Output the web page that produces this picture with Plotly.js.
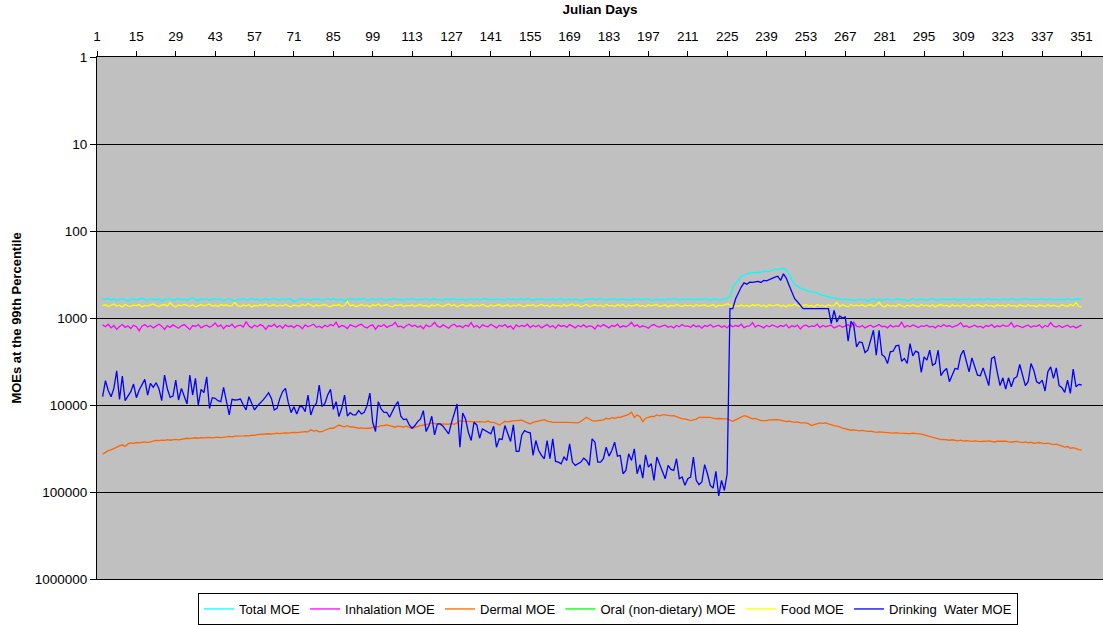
<!DOCTYPE html>
<html>
<head>
<meta charset="utf-8">
<script src="https://cdn.plot.ly/plotly-3.0.1.min.js"></script>
<style>html,body{margin:0;padding:0;background:#fff;}#chart{width:1103px;height:625px;}</style>
</head>
<body>
<div id="chart"></div>
<script>
// Day of the first plotted value (one value per Julian day after that)
const firstDay = 3;

const xTickDays = [1,15,29,43,57,71,85,99,113,127,141,155,169,183,197,211,225,239,253,267,281,295,309,323,337,351];
const yTickValues = [1,10,100,1000,10000,100000,1000000];
const yTickLabels = ['1','10','100','1000','10000','100000','1000000'];

const seriesNames = ['Total MOE','Inhalation MOE','Dermal MOE','Oral (non-dietary) MOE','Food MOE','Drinking  Water MOE'];

const totalMOE = [
600,612,595,620,605,630,610,598,615,640,
612,600,625,605,590,615,630,602,611,620,
598,640,615,605,600,628,612,595,618,606,
624,600,585,612,636,605,617,600,625,610,
598,615,606,630,612,600,620,645,608,615,
600,622,610,596,618,605,630,612,600,620,
609,594,615,628,603,618,600,612,650,625,
605,598,616,610,622,601,615,604,630,612,
600,618,596,625,610,606,640,612,600,615,
620,605,612,598,630,615,602,620,610,596,
615,628,606,612,600,618,611,625,604,615,
599,612,622,608,615,600,626,612,605,618,
610,630,602,615,608,598,620,612,606,625,
612,600,618,605,622,610,596,615,607,620,
603,618,612,626,600,615,608,620,612,605,
618,600,612,625,608,615,600,622,610,616,
605,620,612,600,628,612,606,618,602,615,
640,618,605,612,600,620,610,598,615,625,
608,615,600,622,612,605,618,610,625,602,
615,608,620,612,600,630,615,606,618,610,
622,605,615,600,612,625,608,618,602,615,
610,620,605,616,600,612,625,610,606,618,
612,605,600,560,440,400,370,330,320,311,
305,303,303,302,298,292,292,290,284,275,
278,272,268,280,310,365,410,430,453,465,
480,490,500,505,515,540,550,570,575,585,
590,600,611,615,605,625,612,630,618,608,
620,612,640,615,605,622,610,630,615,602,
618,625,610,605,620,612,640,615,600,622,
612,605,618,625,610,600,615,630,612,605,
620,610,615,602,625,612,606,618,600,622,
610,615,605,620,612,598,618,606,615,624,
605,612,618,600,615,620,608,612,600,615,
620,608,615,612,600,618,610,605,622,612,
615,606,620,600,612,618,605,610,612
];

const inhalationMOE = [
1200,1260,1180,1300,1220,1350,1250,1190,1280,1230,
1320,1210,1260,1400,1240,1190,1270,1220,1300,1250,
1180,1240,1350,1220,1280,1200,1260,1310,1230,1190,
1270,1360,1220,1250,1190,1300,1240,1210,1280,1230,
1140,1260,1200,1330,1220,1250,1180,1290,1230,1210,
1270,1100,1240,1300,1210,1260,1190,1230,1350,1220,
1250,1180,1280,1220,1310,1200,1260,1230,1290,1210,
1240,1330,1200,1260,1220,1180,1280,1240,1300,1210,
1260,1190,1230,1120,1280,1220,1250,1320,1200,1240,
1270,1210,1180,1260,1300,1230,1200,1350,1220,1250,
1190,1280,1230,1210,1120,1260,1240,1300,1220,1180,
1250,1210,1280,1230,1330,1200,1260,1220,1120,1240,
1280,1200,1250,1310,1220,1180,1260,1230,1290,1210,
1250,1130,1270,1220,1300,1200,1240,1260,1180,1230,
1300,1210,1250,1190,1280,1230,1340,1200,1260,1220,
1250,1180,1290,1220,1260,1210,1300,1240,1190,1270,
1230,1310,1200,1250,1220,1280,1190,1240,1300,1220,
1260,1200,1280,1230,1250,1340,1210,1260,1190,1240,
1300,1220,1250,1180,1280,1230,1260,1210,1120,1250,
1200,1280,1230,1260,1310,1220,1190,1250,1270,1230,
1210,1280,1240,1300,1220,1260,1190,1250,1230,1280,
1200,1260,1230,1310,1220,1250,1190,1270,1240,1210,
1280,1230,1300,1200,1260,1220,1250,1180,1290,1240,
1230,1130,1270,1210,1250,1300,1220,1260,1200,1240,
1280,1220,1250,1190,1300,1230,1260,1210,1340,1240,
1200,1270,1230,1250,1180,1290,1220,1260,1240,1210,
1300,1250,1220,1280,1230,1190,1260,1120,1240,1270,
1220,1300,1250,1210,1280,1230,1190,1260,1240,1300,
1210,1270,1230,1250,1120,1280,1220,1260,1200,1240,
1290,1230,1250,1210,1270,1240,1300,1220,1260,1190,
1250,1220,1280,1240,1210,1130,1260,1230,1290,1250,
1210,1270,1240,1300,1220,1250,1190,1280,1230,1260,
1200,1250,1230,1130,1270,1220,1260,1290,1240,1210,
1280,1230,1250,1200,1300,1220,1260,1130,1240,1270,
1220,1290,1250,1210,1280,1240,1300,1250,1210
];

const dermalMOE = [
36700,35000,33500,32800,31500,30500,29500,28700,30000,28000,
27300,27600,27000,27300,26800,26600,27000,26400,25800,25500,
25700,25300,25500,25000,25400,24900,24800,25100,24600,24300,
24100,24400,24000,23800,24100,23700,23900,23700,23600,23900,
23500,23400,23700,23300,23300,23000,23200,22800,22900,22700,
22700,22500,22600,22200,22300,21900,21700,21900,21500,21400,
21600,21200,21100,21300,21000,20900,21100,20700,20600,20800,
20500,20500,20200,20400,19300,19900,19600,20300,20200,19500,
18900,18500,18500,17600,17000,17500,17800,17300,17900,17800,
18200,18500,18300,18600,18500,18500,18100,17500,17800,17300,
17200,16950,17300,17800,18000,17500,17700,17900,17500,18200,
18500,18000,17700,17240,17000,16800,16500,16070,16300,16600,
16500,16500,16800,16650,16300,16650,16000,15110,15300,15400,
15200,15400,15400,15600,15500,15520,15700,15300,15800,15800,
16500,16950,16200,15400,15600,15300,15200,15110,15000,14980,
15500,16000,16500,15800,15520,15200,15000,14720,15300,15600,
15800,15800,15700,15900,15800,15800,15800,16070,15900,16070,
15500,14800,13840,14500,15110,15300,15110,15110,14800,14210,
14500,14000,14200,13840,13840,13500,13250,12800,12130,13840,
13020,13600,15520,14200,13840,13500,13600,13020,13300,13020,
13020,13250,13300,13250,13700,14000,14460,14460,14800,15110,
14800,14500,13840,13900,13840,14000,13840,14200,14460,14300,
14460,14460,14460,15000,15400,14800,14200,13600,13250,13500,
14000,14460,14300,14800,15110,15110,15110,14800,14720,14720,
14720,14900,15200,15520,15300,15520,15800,15600,16070,16070,
16070,16500,17240,16800,16500,16070,16300,16070,16500,17000,
17240,17540,17800,18500,18800,19000,19500,19300,19500,19800,
19600,19900,20100,20000,20300,20600,20400,20600,20800,20700,
20900,21000,20800,21100,21200,21000,21100,21300,21100,21200,
21400,21600,22000,22500,23000,23500,24100,24600,25000,24800,
25200,25400,25100,25500,25800,25400,26000,25700,26000,26200,
25800,26000,26400,26000,26200,25800,26300,26600,26100,26000,
26300,26000,26500,26800,26400,26200,26700,27000,26600,27200,
26800,27500,27300,27000,27500,27800,27400,28000,28500,28200,
29000,29500,30500,30000,31400,31000,32000,32500,33000
];

// Oral (non-dietary) MOE: no line is visible inside the plotted range,
// so the series carries no readable values (legend entry only).
const oralMOE = [null];

const foodMOE = [
720,705,740,715,690,730,712,745,700,725,
735,710,720,700,745,718,730,705,690,722,
740,712,700,730,665,720,745,710,725,700,
718,735,705,742,720,700,728,712,690,735,
715,740,700,722,705,735,718,660,725,740,
710,728,700,745,715,730,705,720,690,735,
722,705,740,712,730,700,725,745,710,718,
735,700,722,680,715,740,705,728,712,700,
725,745,710,720,700,738,715,650,728,705,
742,718,700,730,712,745,705,722,690,735,
715,700,728,745,710,722,700,738,715,725,
705,740,718,700,732,712,745,705,728,700,
722,738,710,690,725,705,745,715,700,732,
718,705,740,712,728,700,722,745,708,730,
715,700,736,720,705,742,712,728,700,725,
740,710,722,705,738,715,700,730,712,745,
705,725,718,740,700,732,712,690,728,705,
745,715,700,738,720,705,730,712,742,700,
725,715,740,705,722,700,745,710,728,715,
700,735,718,742,705,725,712,700,738,720,
705,745,715,730,700,722,740,708,725,712,
742,700,728,715,705,738,720,700,745,712,
725,705,690,700,745,720,735,710,728,715,
740,705,722,700,735,712,745,705,725,718,
700,738,712,745,705,728,690,722,740,715,
705,732,718,745,700,725,712,740,705,728,
715,660,738,705,722,745,700,730,712,725,
705,740,718,700,735,712,660,725,745,705,
728,715,740,700,722,745,710,735,705,718,
742,700,725,712,738,705,745,715,700,730,
712,745,705,728,718,740,700,722,745,710,
735,705,720,742,700,728,715,745,705,725,
712,740,700,730,718,745,705,722,738,700,
728,715,745,705,720,740,700,732,712,725,
745,705,718,740,700,728,665,735,745
];

const drinkingWaterMOE = [
8030,5260,6800,8030,6440,4040,8610,4660,8920,8030,
7030,5750,8240,6730,5800,5080,7680,5650,6280,5550,
6440,8920,4530,6500,8170,7890,5170,8760,6440,8000,
9740,4530,7680,4950,10000,6620,7220,4740,10920,8240,
8390,8920,9160,6280,9160,13020,8610,8760,8700,8540,
10000,11410,8030,9570,11410,10270,9570,8800,8030,7220,
8390,11410,10920,8390,7000,6440,9400,12240,10450,12680,
10450,10450,11920,7680,13020,10500,9570,5900,10450,9570,
7680,6620,11210,9160,13600,10920,7680,13370,12240,13020,
13020,11610,12680,12130,10180,7290,15800,20190,9160,11110,
12130,12130,13840,11610,10180,9160,13480,14720,14460,16950,
18500,17240,15520,14460,11610,20190,17240,13480,22060,16500,
16500,17540,19680,21460,16070,12130,9740,30570,12350,14460,
20550,25600,15800,16950,24090,18830,19680,20550,21460,17540,
30570,24500,24940,17240,21460,26280,16950,34200,34200,22060,
19680,20550,20920,38000,25600,33330,38000,41500,25600,41500,
24500,44500,45300,47300,39700,43400,27960,45300,49500,47300,
45300,40800,43400,49500,24500,26750,45300,45300,41500,30600,
38700,33300,26700,38700,38000,61700,56500,36400,43400,31900,
61700,48500,69200,37400,51700,47300,73500,39700,47300,59000,
70300,49500,55000,56500,41500,70300,67300,83900,70300,67300,
39700,73500,82400,76800,48500,61700,83900,90000,58000,111000,
73500,95700,61700,782,782,601,504,441,394,410,
387,390,385,380,390,370,375,361,350,339,
331,370,311,348,420,500,600,650,703,782,
782,782,782,782,782,782,782,782,782,1161,
817,1111,949,1000,974,1849,1092,1213,2147,1883,
1916,2495,2346,1801,1384,2677,1384,2630,2797,3336,
2451,2408,2091,2055,3135,2921,3336,1967,2726,2408,
2495,4224,2797,3054,2346,3483,3336,2346,4610,4084,
3804,5400,4530,3804,3872,2700,2346,3191,4152,2870,
3640,4530,4610,3745,4730,5990,2921,2797,4152,5990,
4870,6560,4870,6160,4950,4730,3423,4600,5990,5400,
3336,3977,5400,5640,5170,6900,4152,3640,4950,3745,
5990,6330,7150,5170,7340,3872,6160,5790,5890
];

const seriesValues = [totalMOE, inhalationMOE, dermalMOE, oralMOE, foodMOE, drinkingWaterMOE];
const seriesColors = ['#00FFFF','#FF00FF','#FF6600','#00FF00','#FFFF00','#0000FF'];

const traces = seriesValues.map(function (vals, k) {
  return {
    type: 'scatter',
    mode: 'lines',
    name: seriesNames[k],
    x: vals.map(function (_, i) { return firstDay + i; }),
    y: vals,
    line: {color: seriesColors[k], width: 1.3},
    showlegend: true,
    hoverinfo: 'x+y+name'
  };
});

const font = 'Liberation Sans, Arial, sans-serif';

const layout = {
  width: 1103,
  height: 625,
  margin: {l: 97, r: 0, t: 57, b: 43},
  paper_bgcolor: '#FFFFFF',
  plot_bgcolor: '#C0C0C0',
  font: {family: font, size: 13, color: '#000'},
  showlegend: true,
  legend: {
    orientation: 'h',
    x: 0.508, xanchor: 'center',
    y: -0.027, yanchor: 'top',
    bgcolor: '#FFFFFF',
    bordercolor: '#000000',
    borderwidth: 1,
    font: {family: font, size: 13, color: '#000'},
    itemwidth: 30,
    traceorder: 'normal'
  },
  xaxis: {
    side: 'top',
    range: [1, 358.6],
    tickmode: 'array',
    tickvals: xTickDays,
    ticktext: xTickDays.map(String),
    ticks: 'outside',
    ticklen: 5,
    tickcolor: '#000',
    ticklabelstandoff: 5,
    showgrid: false,
    zeroline: false,
    showline: true,
    linecolor: '#000',
    linewidth: 1,
    mirror: true,
    tickfont: {family: font, size: 13.5, color: '#000'},
    title: {text: '<b>Julian Days</b>', font: {family: font, size: 13.5, color: '#000'}, standoff: 10},
    automargin: false
  },
  yaxis: {
    type: 'log',
    range: [6, 0],
    tickmode: 'array',
    tickvals: yTickValues,
    ticktext: yTickLabels,
    ticks: 'outside',
    ticklen: 6,
    tickcolor: '#000',
    showgrid: true,
    gridcolor: '#000000',
    gridwidth: 1,
    zeroline: false,
    showline: true,
    linecolor: '#000',
    linewidth: 1,
    tickfont: {family: font, size: 13.5, color: '#000'},
    title: {text: '<b>MOEs at the 99th Percentile</b>', font: {family: font, size: 13, color: '#000'}, standoff: 10},
    automargin: false
  }
};

Plotly.newPlot('chart', traces, layout, {displayModeBar: false, staticPlot: true});
</script>
</body>
</html>
